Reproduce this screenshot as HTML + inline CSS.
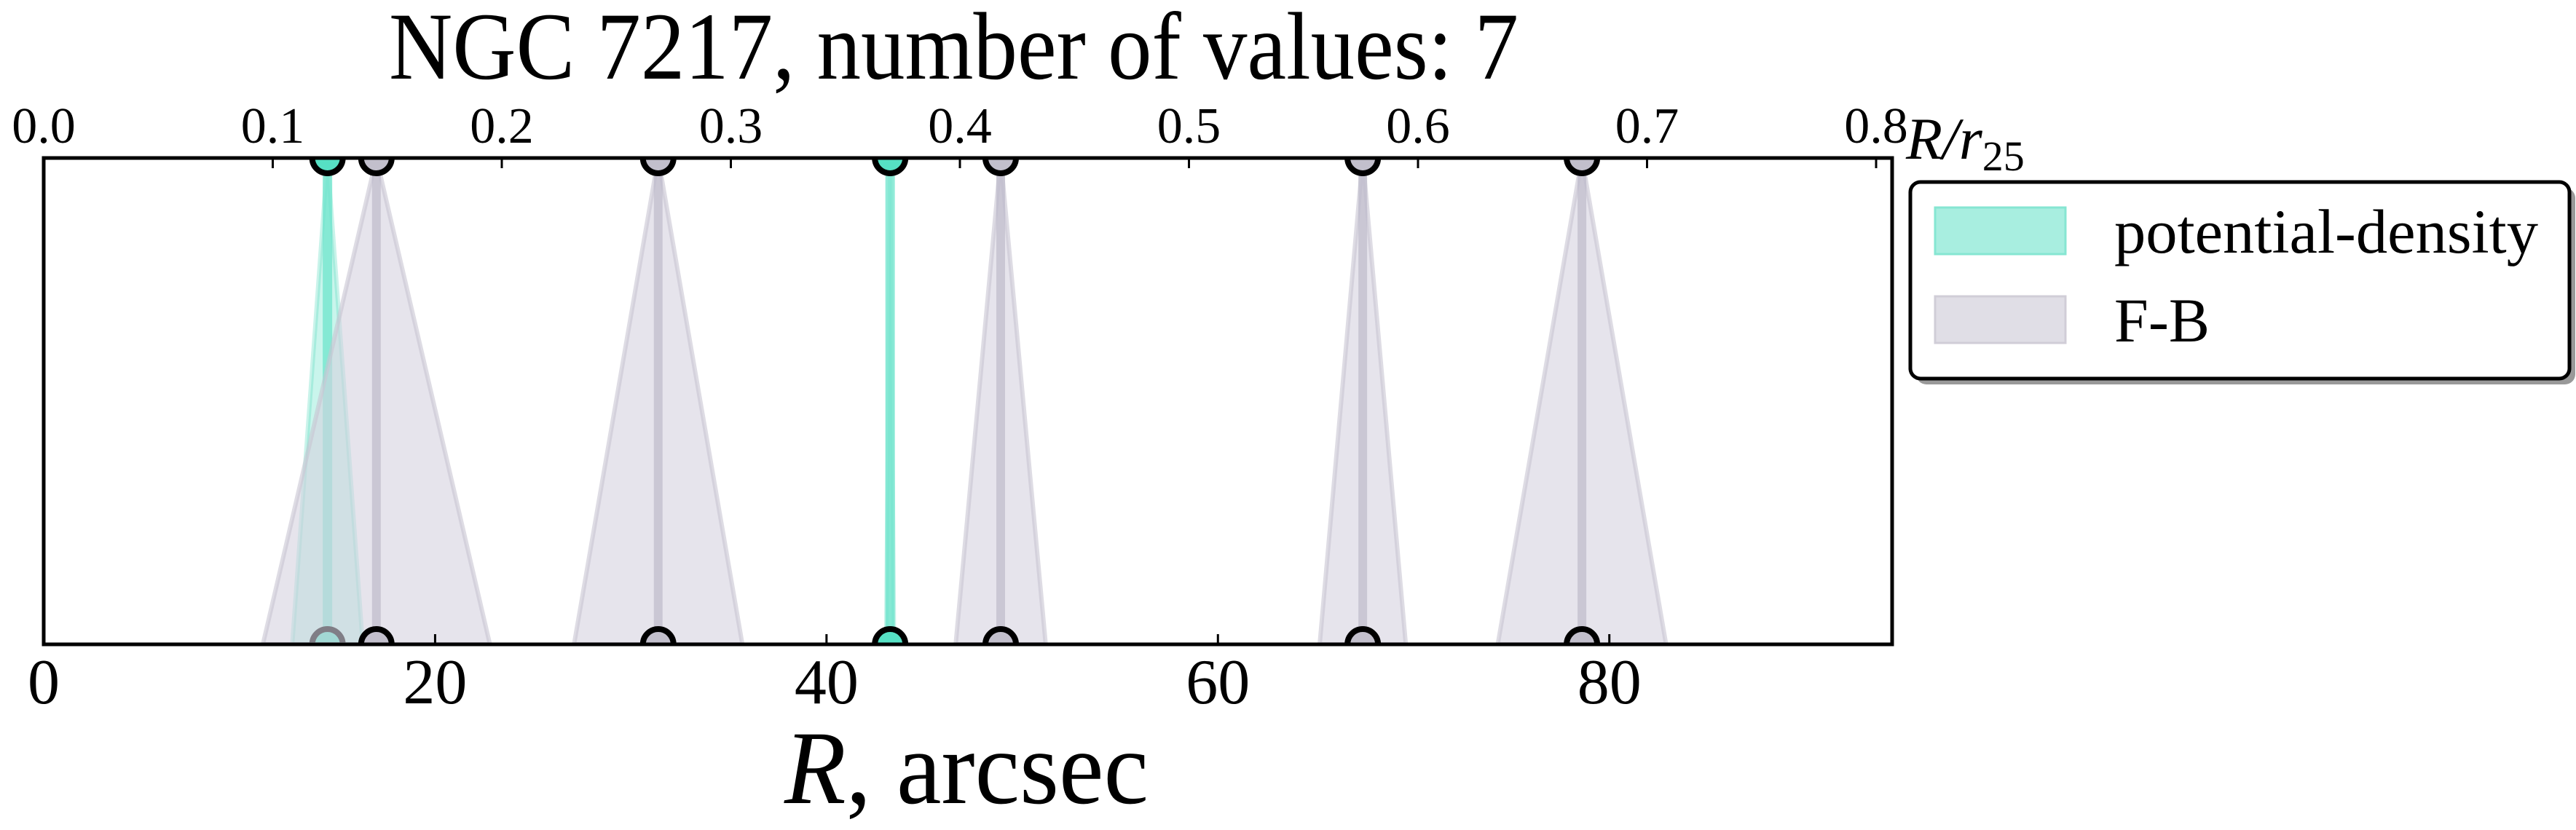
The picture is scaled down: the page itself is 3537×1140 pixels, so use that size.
<!DOCTYPE html>
<html><head><meta charset="utf-8"><style>
html,body{margin:0;padding:0;background:#fff;}
svg{display:block;font-family:"Liberation Serif",serif;}
</style></head><body>
<svg id="chart" width="3537" height="1140" viewBox="0 0 3537 1140" xmlns="http://www.w3.org/2000/svg">
<defs><clipPath id="plotclip"><rect x="60" y="217" width="2538" height="668"/></clipPath></defs>
<text x="534" y="108" font-size="132" textLength="1551" lengthAdjust="spacingAndGlyphs">NGC 7217, number of values: 7</text>
<g id="marks" clip-path="url(#plotclip)"></g>
<rect x="60" y="217" width="2538" height="668" fill="none" stroke="#000" stroke-width="5"/>
<g id="axes"></g>
<text x="1077" y="1103" font-size="144" textLength="500" lengthAdjust="spacingAndGlyphs"><tspan font-style="italic">R</tspan>, arcsec</text>
<text x="2617" y="218" font-size="82" font-style="italic">R/r<tspan font-size="58" font-style="normal" dy="16">25</tspan></text>
<g>
<rect x="2631" y="258" width="905" height="270" rx="14" fill="#999"/>
<rect x="2623" y="250" width="905" height="270" rx="14" fill="#fff" stroke="#000" stroke-width="5"/>
<rect x="2657" y="285" width="179" height="64" fill="#a8eee0" stroke="#86e6d2" stroke-width="3"/>
<text x="2903" y="347" font-size="86" textLength="582" lengthAdjust="spacingAndGlyphs">potential-density</text>
<rect x="2657" y="407" width="179" height="64" fill="#e0dee6" stroke="#d0cdd7" stroke-width="3"/>
<text x="2903" y="469" font-size="86" textLength="131" lengthAdjust="spacingAndGlyphs">F-B</text>
</g>
</svg>
<script>
const fbR = [17.0, 31.4, 48.9, 67.4, 78.6];
const fbErr = [5.8, 4.3, 2.3, 2.2, 4.3];
const pdR = [14.5, 43.25];
const pdErr = [1.8, 0.2];
const xTicks = [0, 20, 40, 60, 80];
const topTicks = [0.0, 0.1, 0.2, 0.3, 0.4, 0.5, 0.6, 0.7, 0.8];
const X0 = 60, X1 = 2598, XMAX = 94.45, YT = 217, YB = 885;
function sx(v){return X0 + v/XMAX*(X1-X0);}
function st(v){return X0 + v/0.8*(2576-X0);}
const NS = "http://www.w3.org/2000/svg";
const marks = document.getElementById('marks');
const axes = document.getElementById('axes');
function mk(tag, attrs, parent){const e=document.createElementNS(NS,tag);for(const k in attrs)e.setAttribute(k,attrs[k]);parent.appendChild(e);return e;}
function series(rs, errs, fill, edge, line, lw, name){
  rs.forEach((r,i)=>{
    const x=sx(r), l=sx(r-errs[i]), rr=sx(r+errs[i]);
    const p=mk('polygon',{points:`${x},${YT} ${l},${YB} ${rr},${YB}`,fill:fill,stroke:edge,'stroke-width':6},marks);
    
    
    const ln=mk('line',{x1:x,y1:YT,x2:x,y2:YB,stroke:line,'stroke-width':lw},marks);
    
    
  });
}
function markers(rs, mfill, name){
  rs.forEach(r=>{
    [YT,YB].forEach(y=>{
      const c=mk('circle',{cx:sx(r),cy:y,r:21,fill:mfill,stroke:'#000','stroke-width':8},marks);
      
      
    });
  });
}
series(pdR, pdErr, 'rgba(100,225,200,0.35)', 'rgba(100,220,195,0.35)', 'rgba(110,228,204,0.75)', 13, 'pd');
markers(pdR, '#56e0c4', 'pd');
series(fbR, fbErr, 'rgba(214,210,224,0.6)', 'rgba(200,196,210,0.6)', 'rgba(190,186,202,0.7)', 12, 'fb');
markers(fbR, '#c2bfcc', 'fb');
xTicks.forEach(v=>{
  const x=sx(v);
  const t=mk('line',{x1:x,y1:YB,x2:x,y2:YB-14,stroke:'#000','stroke-width':3},axes);
  
  
  const tx=mk('text',{x:x,y:966,'font-size':88,'text-anchor':'middle'},axes);
  tx.textContent=String(v);
  
  
});
topTicks.forEach(v=>{
  const x=st(v);
  const t=mk('line',{x1:x,y1:YT,x2:x,y2:YT+14,stroke:'#000','stroke-width':3},axes);
  
  
  const tx=mk('text',{x:x,y:196,'font-size':70,'text-anchor':'middle'},axes);
  tx.textContent=v.toFixed(1);
  
  
});
</script>
</body></html>
